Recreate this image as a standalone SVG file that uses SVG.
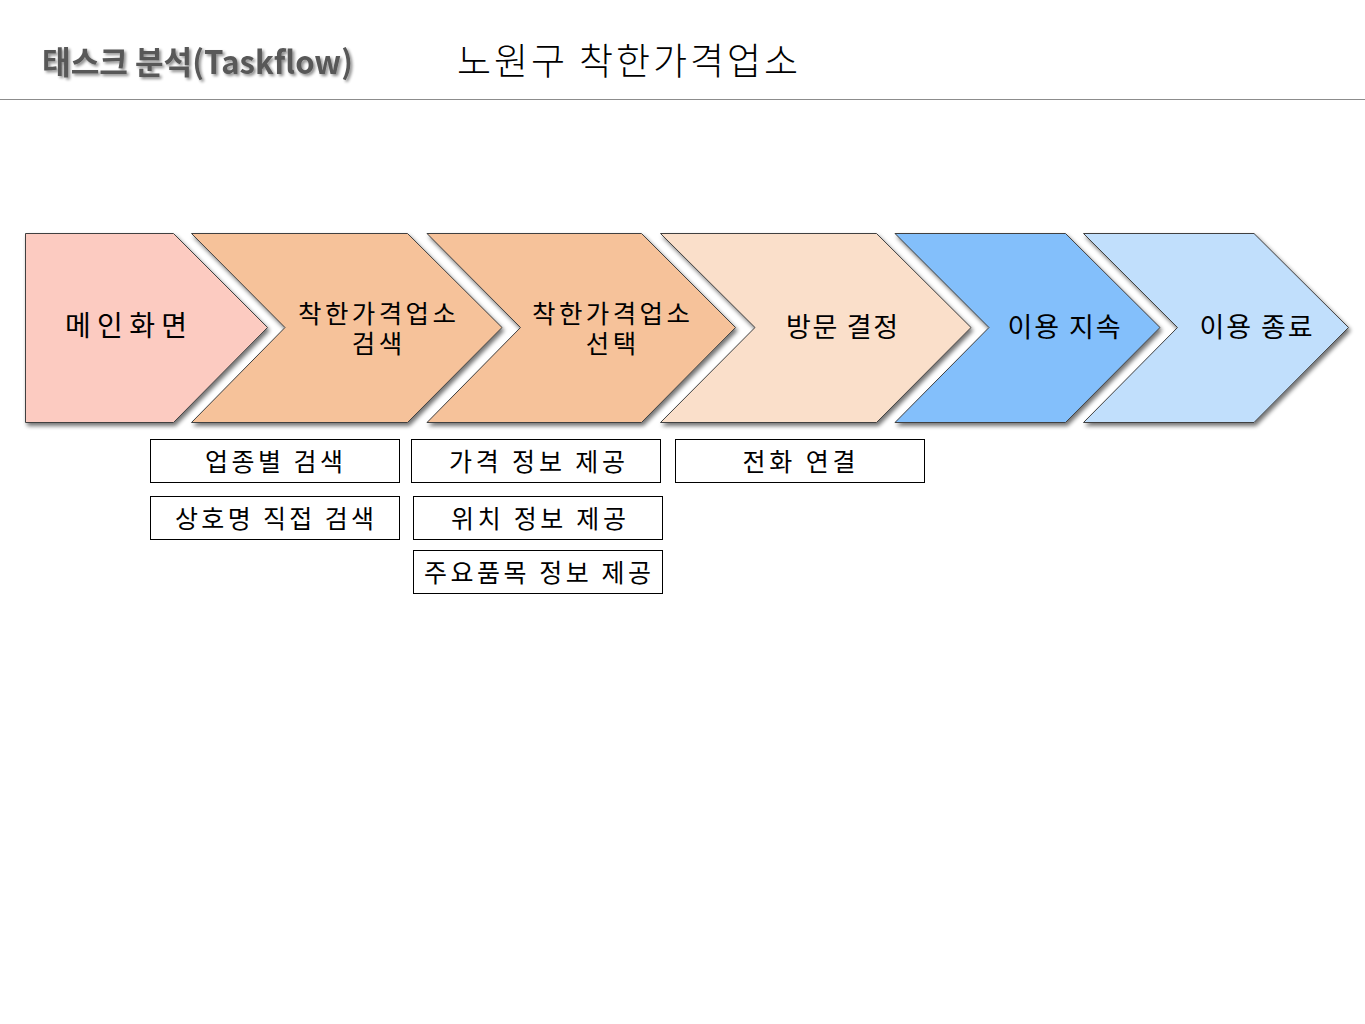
<svg xmlns="http://www.w3.org/2000/svg" width="1365" height="1024" viewBox="0 0 1365 1024">
<defs>
<filter id="sh" x="-10%" y="-10%" width="130%" height="130%">
<feGaussianBlur in="SourceAlpha" stdDeviation="2"/>
<feOffset dx="2" dy="3" result="b"/>
<feComponentTransfer><feFuncA type="linear" slope="0.55"/></feComponentTransfer>
<feMerge><feMergeNode/><feMergeNode in="SourceGraphic"/></feMerge>
</filter>
<filter id="tsh" x="-5%" y="-20%" width="115%" height="150%">
<feGaussianBlur in="SourceAlpha" stdDeviation="1.5"/>
<feOffset dx="2" dy="2"/>
<feComponentTransfer><feFuncA type="linear" slope="0.45"/></feComponentTransfer>
<feMerge><feMergeNode/><feMergeNode in="SourceGraphic"/></feMerge>
</filter>
</defs>
<style>
.chev{stroke:#404040;stroke-width:1;}
.t{font-family:"Noto Sans CJK KR","Liberation Sans",sans-serif;fill:#000;text-anchor:middle;}
.ct{font-size:27px;}
.ct2{font-size:25.5px;letter-spacing:3.4px;}
.bx{fill:#fff;stroke:#000;stroke-width:1;}
.bt{font-size:25px;}
</style>
<rect x="0" y="0" width="1365" height="1024" fill="#fff"/>
<g id="header">
<text x="42" y="74" font-family="Noto Sans CJK KR,Liberation Sans,sans-serif" font-weight="bold" font-size="32" fill="#595959" textLength="311" lengthAdjust="spacingAndGlyphs" filter="url(#tsh)">태스크 분석(Taskflow)</text>
<text x="457" y="75" font-family="Noto Sans CJK KR,Liberation Sans,sans-serif" font-weight="300" font-size="37" fill="#000" textLength="341" lengthAdjust="spacing">노원구 착한가격업소</text>
<line x1="0" y1="99.5" x2="1365" y2="99.5" stroke="#8c8c8c" stroke-width="1"/>
</g>
<g id="connectors"></g>
<g id="n1"><path class="chev" filter="url(#sh)" fill="#FCCBC1" d="M25.5,233.5 H173.5 L267.5,327.5 L173.5,422.5 H25.5 Z"/><text class="t" font-size="28" x="126" y="336" textLength="122" lengthAdjust="spacing">메인화면</text></g>
<g id="n2"><path class="chev" filter="url(#sh)" fill="#F6C29A" d="M191.5,233.5 H407.5 L502,327.5 L407.5,422.5 H191.5 L285,327.5 Z"/><text class="t ct2"><tspan x="378.7" y="323">착한가격업소</tspan><tspan x="378.7" y="353">검색</tspan></text></g>
<g id="n3"><path class="chev" filter="url(#sh)" fill="#F6C29A" d="M427,233.5 H641.5 L735.5,327.5 L641.5,422.5 H427 L520.5,327.5 Z"/><text class="t ct2"><tspan x="612.7" y="323">착한가격업소</tspan><tspan x="612.7" y="353">선택</tspan></text></g>
<g id="n4"><path class="chev" filter="url(#sh)" fill="#FADFCA" d="M660.5,233.5 H876.5 L971,327.5 L876.5,422.5 H660.5 L755,327.5 Z"/><text class="t ct" x="842" y="337" textLength="112" lengthAdjust="spacing">방문 결정</text></g>
<g id="n5"><path class="chev" filter="url(#sh)" fill="#83BFFB" d="M895,233.5 H1065.5 L1160,327.5 L1065.5,422.5 H895 L989,327.5 Z"/><text class="t ct" x="1064" y="337" textLength="113" lengthAdjust="spacing">이용 지속</text></g>
<g id="n6"><path class="chev" filter="url(#sh)" fill="#C1DFFC" d="M1083.5,233.5 H1254 L1348.5,327.5 L1254,422.5 H1083.5 L1177.5,327.5 Z"/><text class="t ct" x="1256" y="337" textLength="113" lengthAdjust="spacing">이용 종료</text></g>
<g id="b1"><rect class="bx" x="150.5" y="439.5" width="249" height="43"/><text class="t bt" x="274" y="471" textLength="138" lengthAdjust="spacing">업종별 검색</text></g>
<g id="b2"><rect class="bx" x="411.5" y="439.5" width="249" height="43"/><text class="t bt" x="537" y="471" textLength="176" lengthAdjust="spacing">가격 정보 제공</text></g>
<g id="b3"><rect class="bx" x="675.5" y="439.5" width="249" height="43"/><text class="t bt" x="799" y="471" textLength="113" lengthAdjust="spacing">전화 연결</text></g>
<g id="b4"><rect class="bx" x="150.5" y="496.5" width="249" height="43"/><text class="t bt" x="274.5" y="528" textLength="199" lengthAdjust="spacing">상호명 직접 검색</text></g>
<g id="b5"><rect class="bx" x="413.5" y="496.5" width="249" height="43"/><text class="t bt" x="538.5" y="528" textLength="175" lengthAdjust="spacing">위치 정보 제공</text></g>
<g id="b6"><rect class="bx" x="413.5" y="550.5" width="249" height="43"/><text class="t bt" x="537.5" y="582" textLength="227" lengthAdjust="spacing">주요품목 정보 제공</text></g>
</svg>
